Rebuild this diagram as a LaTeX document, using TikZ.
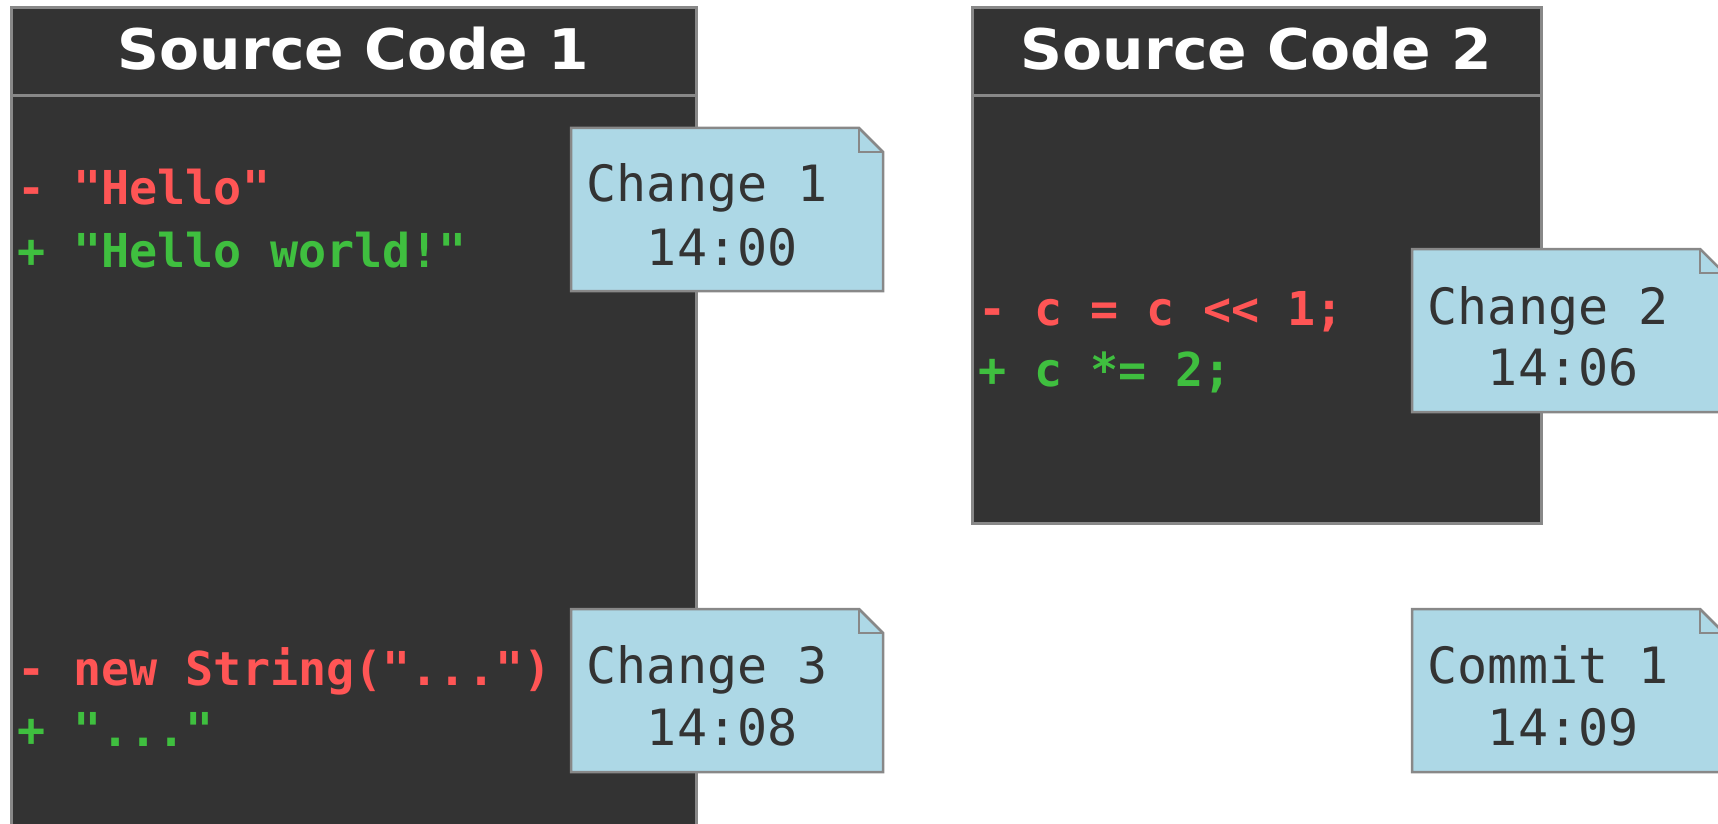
\documentclass[tikz,border=0pt]{standalone}
\usepackage{fontspec}
\setsansfont{DejaVu Sans}
\setmonofont{DejaVu Sans Mono}
\newfontfamily\titlefont{DejaVu Sans}[FakeStretch=1.04]
\definecolor{boxfill}{HTML}{333333}
\definecolor{edgegrey}{HTML}{888888}
\definecolor{notefill}{HTML}{ADD8E6}
\definecolor{notetext}{HTML}{333333}
\definecolor{delred}{HTML}{FF5555}
\definecolor{addgreen}{HTML}{3FBF3F}
\tikzset{
  srcbox/.style={draw=edgegrey, line width=3pt, fill=boxfill},
  headline/.style={draw=edgegrey, line width=3pt},
  noteshape/.style={draw=edgegrey, line width=2.5pt, fill=notefill, line join=miter},
  titletext/.style={text=white, font=\titlefont\bfseries\fontsize{56pt}{66pt}\selectfont, inner sep=0pt, anchor=base},
  codeline/.style={font=\ttfamily\bfseries\fontsize{46.7pt}{56pt}\selectfont, inner sep=0pt, anchor=base west},
  deltext/.style={codeline, text=delred},
  addtext/.style={codeline, text=addgreen},
  notelabel/.style={text=notetext, font=\ttfamily\fontsize{50pt}{60pt}\selectfont, inner sep=0pt, anchor=base west}
}
\begin{document}
\begin{tikzpicture}[x=1pt,y=-1pt]
\useasboundingbox (0,0) rectangle (1718,824);
\clip (0,0) rectangle (1718,824);
% source boxes
\draw[srcbox] (11,8) rectangle (696,850);
\draw[headline] (11,96) -- (696,96);
\draw[srcbox] (972,8) rectangle (1541,523);
\draw[headline] (972,96) -- (1541,96);
\node[titletext] (title1) at (353.5,70) {Source Code 1};
\node[titletext] (title2) at (1256.5,70) {Source Code 2};
% code lines
\node[deltext] (d1) at (17,204.5) {- "Hello"};
\node[addtext] (a1) at (17,267.5) {+ "Hello world!"};
\node[deltext] (d3) at (17,685) {- new String("...")};
\node[addtext] (a3) at (17,746.5) {+ "..."};
\node[deltext] (d2) at (978,325.5) {- c = c << 1;};
\node[addtext] (a2) at (978,386) {+ c *= 2;};
% notes
\foreach \nx/\ny in {571/128, 1412/249, 571/609, 1412/609}{
  \draw[noteshape] (\nx,\ny) -- ++(288,0) -- ++(24,24) -- ++(0,139) -- ++(-312,0) -- cycle;
  \draw[draw=edgegrey, line width=2pt] (\nx+288,\ny) -- ++(0,24) -- ++(24,0);
}
\node[notelabel] (n1a) at (586.5,201) {Change 1};
\node[notelabel] (n1b) at (586.5,265) {\hphantom{00}14:00};
\node[notelabel] (n2a) at (1427.5,324) {Change 2};
\node[notelabel] (n2b) at (1427.5,385) {\hphantom{00}14:06};
\node[notelabel] (n3a) at (586.5,683) {Change 3};
\node[notelabel] (n3b) at (586.5,745) {\hphantom{00}14:08};
\node[notelabel] (n4a) at (1427.5,683) {Commit 1};
\node[notelabel] (n4b) at (1427.5,745) {\hphantom{00}14:09};
\end{tikzpicture}
\end{document}
